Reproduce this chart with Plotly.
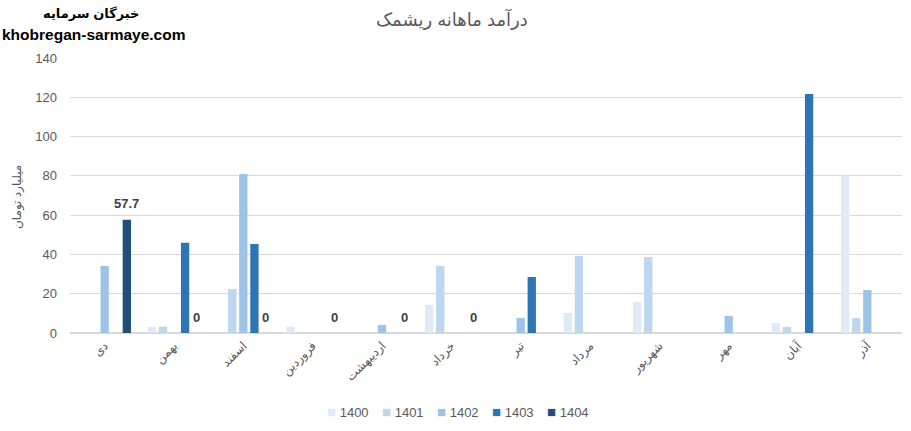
import plotly.graph_objects as go

months = ["دی", "بهمن", "اسفند", "فروردین", "اردیبهشت", "خرداد",
          "تیر", "مرداد", "شهریور", "مهر", "آبان", "آذر"]
series_names = ["1400", "1401", "1402", "1403", "1404"]
v1400 = [None, 3.2, None, 3.2, None, 14.3, None, 10.2, 15.8, None, 5.1, 80.1]
v1401 = [None, 3.2, 22.4, None, None, 34.1, None, 39.2, 38.7, None, 3.1, 7.6]
v1402 = [34.1, None, 81.0, None, 4.1, None, 7.6, None, None, 8.7, None, 21.9]
v1403 = [None, 46.0, 45.3, None, None, None, 28.5, None, None, None, 121.7, None]
v1404 = [57.7, 0, 0, 0, 0, 0, None, None, None, None, None, None]
colors = ["#DEEBF7", "#BDD7EE", "#9DC3E6", "#2E75B6", "#1F4E79"]

W, H = 911, 431
L, R, T, B = 70, 9, 58, 98
BARGAP, GROUPGAP = 0.2, 0.25

series = [v1400, v1401, v1402, v1403, v1404]
fig = go.Figure()
for name, vals, col in zip(series_names, series, colors):
    fig.add_trace(go.Bar(x=months, y=vals, name=name, marker_color=col,
                         marker_line_width=0, showlegend=False))

pw = W - L - R
ph = H - T - B

def px2paper(px, py):
    return (px - L) / pw, (H - B - py) / ph

annotations = []
# data labels for the 1404 series, placed above its bars (slot offset from group layout)
slot = pw / len(months) * (1 - BARGAP) / len(series_names)
idx = series_names.index("1404")
xshift = (idx - (len(series_names) - 1) / 2) * slot
for m, v in zip(months, v1404):
    if v is None:
        continue
    annotations.append(dict(text=f"<b>{v:g}</b>", x=m, y=v, xref="x", yref="y",
                            xshift=xshift, yshift=16, xanchor="center", yanchor="middle",
                            showarrow=False,
                            font=dict(size=13, color="#404040", family="Liberation Sans")))

ax1, ay1 = px2paper(91, 13)
annotations.append(dict(text="<b>خبرگان سرمایه</b>", x=ax1, y=ay1, xref="paper", yref="paper",
                        xanchor="center", yanchor="middle", showarrow=False,
                        font=dict(size=13, color="#000000")))
ax2, ay2 = px2paper(0, 35)
annotations.append(dict(text="<b>khobregan-sarmaye.com</b>", x=ax2, y=ay2, xref="paper", yref="paper",
                        xanchor="left", yanchor="middle", showarrow=False,
                        font=dict(size=15.5, color="#000000")))
tx, ty = px2paper(18, 197)
annotations.append(dict(text="میلیارد تومان", x=tx, y=ty, xref="paper", yref="paper",
                        xanchor="center", yanchor="middle", showarrow=False, textangle=-90,
                        font=dict(size=12, color="#595959")))
# custom legend entries (symbol + series name)
leg_x0 = 325
leg_step = 55
for i, (name, col) in enumerate(zip(series_names, colors)):
    lx, ly = px2paper(leg_x0 + i * leg_step, 411)
    annotations.append(dict(text=f"<span style='color:{col};font-size:15px'>■</span> {name}",
                            x=lx, y=ly, xref="paper", yref="paper",
                            xanchor="left", yanchor="middle", showarrow=False,
                            font=dict(size=13, color="#595959")))

fig.update_layout(
    width=W, height=H,
    margin=dict(l=L, r=R, t=T, b=B, autoexpand=False),
    plot_bgcolor="white", paper_bgcolor="white",
    barmode="group", bargap=BARGAP, bargroupgap=GROUPGAP,
    showlegend=False,
    font=dict(family="Liberation Sans, DejaVu Sans", color="#595959"),
    title=dict(text="درآمد ماهانه ریشمک", x=0.496, xanchor="center",
               y=1 - 20 / H, yanchor="middle", yref="container",
               font=dict(size=18, color="#595959")),
    xaxis=dict(tickangle=-45, tickfont=dict(size=12, color="#595959"),
               showline=True, linecolor="#d9d9d9", ticks="", automargin=False),
    yaxis=dict(range=[0, 140], dtick=20, showgrid=True, gridcolor="#d9d9d9",
               zeroline=True, zerolinecolor="#d9d9d9", automargin=False,
               tickfont=dict(size=13, color="#595959"), ticks="",
               ticklabelstandoff=12),
    annotations=annotations,
)

fig.write_html("out.html", config={"displayModeBar": False},
               post_script="document.body.style.margin='0';")
